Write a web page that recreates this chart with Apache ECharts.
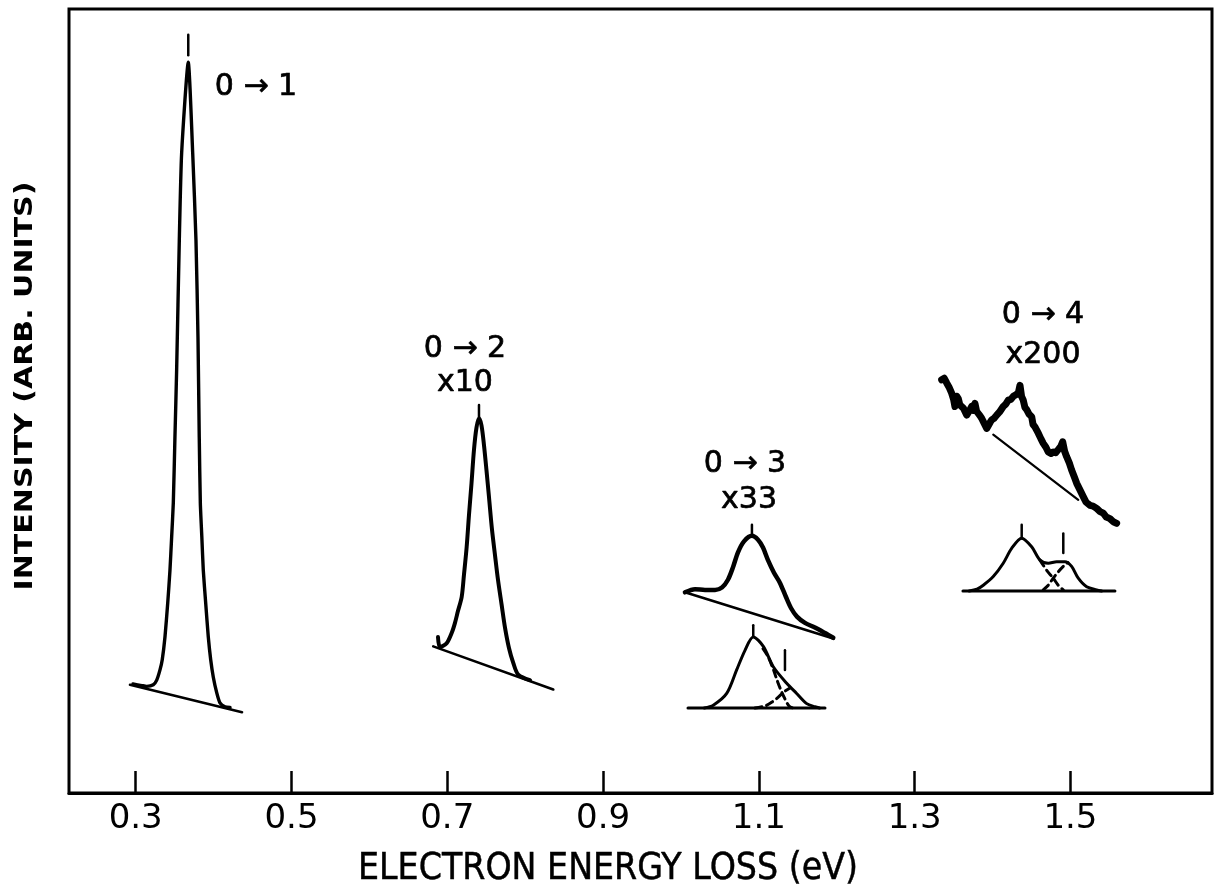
<!DOCTYPE html>
<html><head><meta charset="utf-8">
<script src="https://cdn.jsdelivr.net/npm/echarts@6/dist/echarts.min.js"></script>
<style>html,body{margin:0;padding:0;background:#fff}#c{width:1220px;height:892px}</style>
</head><body><div id="c"></div>
<script>
// ---- tick labels ----
const xTicks = [0.3, 0.5, 0.7, 0.9, 1.1, 1.3, 1.5];

// ---- 0->1 peak ----
const peak1Curve = [[0.2965,13.9],[0.3080,13.7],[0.3141,13.6],[0.3226,13.8],[0.3270,14.4],[0.3312,15.7],[0.3341,17.0],[0.3376,19.9],[0.3411,24.2],[0.3440,28.4],[0.3462,32.7],[0.3483,37.0],[0.3504,45.4],[0.3526,54.0],[0.3560,70.5],[0.3590,81.6],[0.3675,93.2],[0.3732,81.6],[0.3774,70.5],[0.3800,58.0],[0.3816,45.4],[0.3830,37.0],[0.3849,32.7],[0.3868,28.4],[0.3899,24.2],[0.3932,19.9],[0.3963,17.0],[0.3996,14.8],[0.4040,12.8],[0.4082,11.5],[0.4146,11.0],[0.4211,10.9]];
const peak1Base = [[0.2927,13.8],[0.4365,10.3]];

// ---- 0->2 peak (x10) ----
const peak2Curve = [[0.6881,19.9],[0.6906,18.6],[0.6992,19.1],[0.7060,20.5],[0.7099,21.7],[0.7137,23.2],[0.7185,25.0],[0.7214,27.8],[0.7249,31.4],[0.7279,35.5],[0.7311,39.5],[0.7343,43.8],[0.7375,46.6],[0.7407,47.8],[0.7439,46.9],[0.7471,44.4],[0.7503,41.2],[0.7535,37.8],[0.7574,33.6],[0.7612,30.4],[0.7651,27.2],[0.7698,24.0],[0.7741,21.1],[0.7792,18.5],[0.7847,16.6],[0.7911,15.1],[0.8062,14.4]];
const peak2Base = [[0.6820,18.7],[0.8361,13.2]];

// ---- 0->3 peak (x33), measured ----
const peak3Curve = [[1.0051,25.6],[1.0180,26.0],[1.0308,25.9],[1.0437,25.9],[1.0526,26.2],[1.0603,27.2],[1.0668,28.8],[1.0732,30.7],[1.0809,32.1],[1.0911,32.8],[1.0989,32.3],[1.1053,31.3],[1.1117,29.7],[1.1194,28.1],[1.1271,26.8],[1.1348,25.0],[1.1412,23.6],[1.1489,22.5],[1.1592,21.7],[1.1720,21.1],[1.1849,20.4],[1.1955,19.8]];
const peak3Base = [[1.0051,25.6],[1.1955,19.7]];

// ---- 0->3 fitted components ----
const peak3FitEnvelope = [[1.0300,10.84],[1.0415,11.2],[1.0587,12.7],[1.0715,15.7],[1.0822,18.2],[1.0928,19.9],[1.1057,18.7],[1.1185,16.1],[1.1357,14.0],[1.1485,12.7],[1.1614,11.4],[1.1720,11.0],[1.1780,10.84]];
const peak3FitBase = [[1.0090,10.84],[1.1849,10.84]];
const peak3FitMainTail = [[1.1053,18.4],[1.1117,17.4],[1.1181,15.9],[1.1233,14.4],[1.1284,13.1],[1.1335,12.0],[1.1387,11.1],[1.1438,10.84]];
const peak3FitSecond = [[1.0950,10.84],[1.1079,11.1],[1.1169,11.6],[1.1246,12.2],[1.1323,12.9],[1.1400,13.4]];

// ---- 0->4 peak (x200), measured ----
const peak4Curve = [[1.3347,52.7],[1.3380,52.9],[1.3411,52.3],[1.3440,51.8],[1.3475,51.0],[1.3500,50.2],[1.3517,49.3],[1.3540,50.6],[1.3560,50.3],[1.3580,49.5],[1.3603,49.7],[1.3625,49.1],[1.3646,48.9],[1.3668,48.2],[1.3688,48.0],[1.3710,48.9],[1.3732,49.3],[1.3750,48.8],[1.3774,49.7],[1.3795,48.7],[1.3817,48.4],[1.3840,48.1],[1.3860,47.8],[1.3880,47.4],[1.3903,47.2],[1.3925,46.5],[1.3945,46.7],[1.3970,47.3],[1.3989,47.6],[1.4020,47.8],[1.4053,48.2],[1.4090,48.6],[1.4137,49.3],[1.4170,49.6],[1.4202,50.1],[1.4235,50.2],[1.4266,50.6],[1.4300,50.8],[1.4330,51.0],[1.4352,52.0],[1.4372,50.6],[1.4394,50.1],[1.4415,49.2],[1.4438,48.9],[1.4470,48.3],[1.4502,48.0],[1.4520,47.0],[1.4544,46.7],[1.4565,46.5],[1.4587,45.9],[1.4620,45.2],[1.4651,44.6],[1.4685,44.1],[1.4715,43.5],[1.4750,43.3],[1.4779,43.5],[1.4810,43.4],[1.4843,43.8],[1.4875,44.2],[1.4900,44.8],[1.4925,43.6],[1.4951,42.9],[1.4985,42.1],[1.5015,41.2],[1.5050,40.3],[1.5080,39.5],[1.5120,38.7],[1.5164,37.8],[1.5200,37.1],[1.5250,36.7],[1.5290,36.6],[1.5336,36.3],[1.5380,35.9],[1.5421,35.7],[1.5460,35.2],[1.5507,35.0],[1.5550,34.6],[1.5593,34.4]];
const peak4Base = [[1.4009,45.7],[1.5100,37.4]];

// ---- 0->4 fitted components ----
const peak4FitEnvelope = [[1.3700,25.77],[1.3800,26.0],[1.3881,26.5],[1.4009,27.6],[1.4137,29.3],[1.4245,31.2],[1.4374,32.5],[1.4502,31.4],[1.4609,29.7],[1.4715,29.3],[1.4823,29.5],[1.4929,29.5],[1.5015,28.9],[1.5100,27.4],[1.5208,26.3],[1.5336,25.9],[1.5400,25.77]];
const peak4FitBase = [[1.3620,25.77],[1.5571,25.77]];
const peak4FitMainTail = [[1.4609,29.7],[1.4695,28.4],[1.4779,27.4],[1.4843,26.5],[1.4908,25.9]];
const peak4FitSecond = [[1.4651,25.9],[1.4715,26.5],[1.4779,27.4],[1.4843,28.2],[1.4908,28.9],[1.4968,29.4]];

// ---- peak position marks: [x, yFrom, yTo] ----
const peakMarks = [[0.3675,94.1,96.7],[0.7407,48.0,49.5],[1.0911,32.8,34.2],[1.0928,20.0,21.4],[1.1335,15.7,18.2],[1.4374,32.5,34.2],[1.4908,30.6,33.1]];

// ---- annotation texts and anchors ----
const noteTexts = ['0 → 1', '0 → 2', 'x10', '0 → 3', 'x33', '0 → 4', 'x200'];
const noteX = [0.4544, 0.7227, 0.7227, 1.0822, 1.0874, 1.4647, 1.4647];
const noteY = [90.0, 56.6, 52.3, 41.9, 37.3, 61.0, 55.8];

const chart = echarts.init(document.getElementById('c'), null, {renderer: 'canvas'});

function line(data, width, opts) {
  opts = opts || {};
  return {
    type: 'line', data: data, showSymbol: false, symbol: 'none',
    smooth: opts.smooth || false,
    lineStyle: {color: '#000', width: width, type: opts.dash || 'solid', cap: 'round', join: 'round'},
    silent: true, z: 3
  };
}

const series = [
  line(peak1Curve, 3.4, {smooth: 0.2}),
  line(peak1Base, 2.6),
  line(peak2Curve, 4, {smooth: 0.3}),
  line(peak2Base, 2.6),
  line(peak3Curve, 4.5, {smooth: 0.3}),
  line(peak3Base, 2.6),
  line(peak3FitEnvelope, 3, {smooth: 0.3}),
  line(peak3FitBase, 3),
  line(peak3FitMainTail, 3, {smooth: 0.3, dash: [7, 5]}),
  line(peak3FitSecond, 3, {smooth: 0.3, dash: [7, 5]}),
  line(peak4Curve, 7),
  line(peak4Base, 2.2),
  line(peak4FitEnvelope, 3, {smooth: 0.3}),
  line(peak4FitBase, 3),
  line(peak4FitMainTail, 3, {smooth: 0.3, dash: [7, 5]}),
  line(peak4FitSecond, 3, {smooth: 0.3, dash: [7, 5]})
];
peakMarks.forEach(function (m) {
  series.push(line([[m[0], m[1]], [m[0], m[2]]], 2.5));
});
series.push({
  type: 'scatter', symbolSize: 0, silent: true, z: 5,
  data: noteTexts.map(function (t, i) { return {name: t, value: [noteX[i], noteY[i]]}; }),
  label: {show: true, position: 'inside', formatter: '{b}', color: '#000', opacity: 1,
          textBorderColor: '#000', textBorderWidth: 0.7,
          fontFamily: 'DejaVu Sans', fontSize: 30}
});

chart.setOption({
  animation: false,
  backgroundColor: '#fff',
  grid: {left: 69, right: 8, top: 9, bottom: 99, show: true, borderColor: '#000', borderWidth: 3, backgroundColor: 'transparent'},
  xAxis: {
    type: 'value', min: 0.2144, max: 1.6817,
    axisLine: {show: true, lineStyle: {color: '#000', width: 3}},
    axisTick: {show: true, inside: true, length: 22, customValues: xTicks, lineStyle: {color: '#000', width: 2.5}},
    axisLabel: {show: true, customValues: xTicks, margin: 9, color: '#000', fontFamily: 'DejaVu Sans', fontSize: 34,
                formatter: function (v) { return v.toFixed(1); }},
    splitLine: {show: false}
  },
  yAxis: {
    type: 'value', min: 0, max: 100,
    axisLine: {show: false}, axisTick: {show: false}, axisLabel: {show: false}, splitLine: {show: false}
  },
  graphic: [
    {type: 'text', x: 608, y: 869, scaleX: 0.9, silent: true,
     style: {text: 'ELECTRON ENERGY LOSS (eV)', fill: '#000', stroke: '#000', lineWidth: 0.5, font: '37px "DejaVu Sans"', align: 'center', verticalAlign: 'middle'}},
    {type: 'text', x: 25, y: 386, rotation: Math.PI / 2, scaleX: 1.2, silent: true,
     style: {text: 'INTENSITY (ARB. UNITS)', fill: '#000', font: 'bold 25px "DejaVu Sans"', align: 'center', verticalAlign: 'middle'}}
  ],
  series: series
});
</script>
</body></html>
